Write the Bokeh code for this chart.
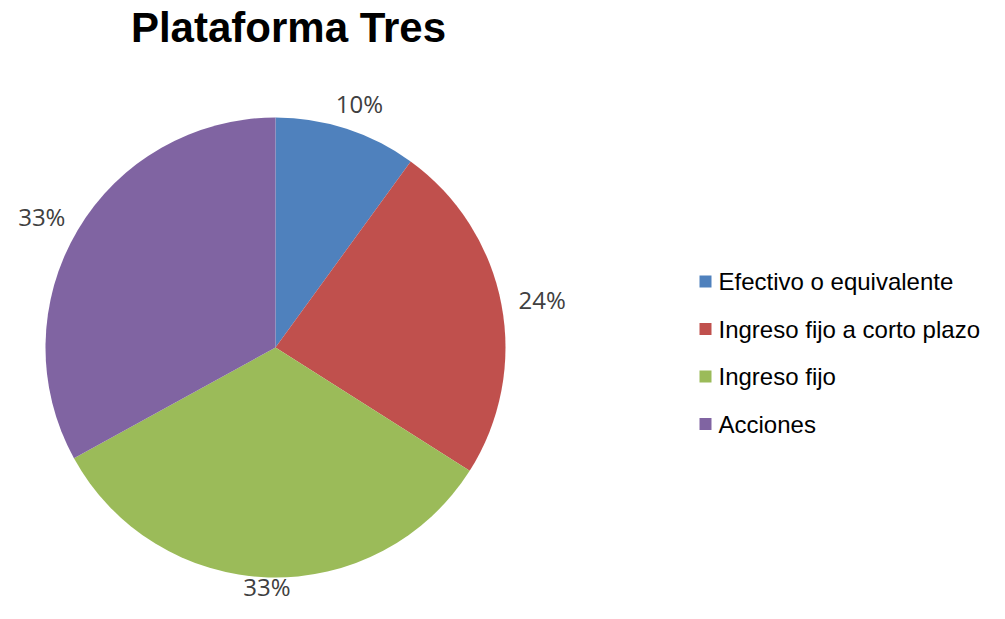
import numpy as np
from bokeh.plotting import figure
from bokeh.models import Range1d
from bokeh.core.properties import value
from bokeh.embed import file_html
from bokeh.resources import INLINE

# ---- data ----
title = "Plataforma Tres"
categories = ["Efectivo o equivalente", "Ingreso fijo a corto plazo", "Ingreso fijo", "Acciones"]
shares = [10, 24, 33, 33]
colors = ["#4F81BD", "#C0504D", "#9BBB59", "#8064A2"]

W, H = 989, 603


def sy(y):
    return H - y


p = figure(width=W, height=H, x_range=Range1d(0, W), y_range=Range1d(0, H),
           output_backend="svg", toolbar_location=None, min_border=0)
p.axis.visible = False
p.grid.visible = False
p.outline_line_color = None
p.background_fill_color = "white"
p.border_fill_color = "white"

# pie geometry (screen pixels, y downward)
cx, cy, R = 275, 347, 230
vals = np.array(shares, dtype=float)
frac = vals / vals.sum()
cum = np.cumsum(frac)
start = cum - frac
a0 = np.pi / 2 - start * 2 * np.pi
a1 = np.pi / 2 - cum * 2 * np.pi

p.wedge(x=[cx] * len(vals), y=[sy(cy)] * len(vals), radius=R,
        start_angle=list(a0), end_angle=list(a1), direction="clock",
        fill_color=colors, line_color=None)

# data labels (outside end)
mid = (start + cum) / 2 * 2 * np.pi
ux = np.sin(mid)
uy = -np.cos(mid)
g, bw, bh = 18, 47, 18
lx = cx + (R + g) * ux + bw / 2 * ux
ly = cy + (R + g) * uy + bh / 2 * uy
ly = np.minimum(ly, H - 17)
labels = ["%d%%" % round(f * 100) for f in frac]
p.text(x=list(lx), y=[sy(v) for v in ly], text=labels,
       text_font=value("Open Sans"), text_font_size="24px", text_color="#404040",
       text_align="center", text_baseline="middle")

# title
p.text(x=[288], y=[sy(27)], text=[title], text_font=value("Liberation Sans"),
       text_font_size="42px", text_font_style="bold", text_color="#000000",
       text_align="center", text_baseline="middle")

# legend
ly0, lstep = 281, 47.5
rows = [ly0 + i * lstep for i in range(len(categories))]
p.rect(x=[705] * len(categories), y=[sy(r) for r in rows], width=12, height=12,
       fill_color=colors, line_color=None)
p.text(x=[718] * len(categories), y=[sy(r) for r in rows], text=categories,
       text_font=value("Liberation Sans"), text_font_size="24px", text_color="#000000",
       text_align="left", text_baseline="middle")

open("out.html", "w").write(file_html(p, INLINE))
